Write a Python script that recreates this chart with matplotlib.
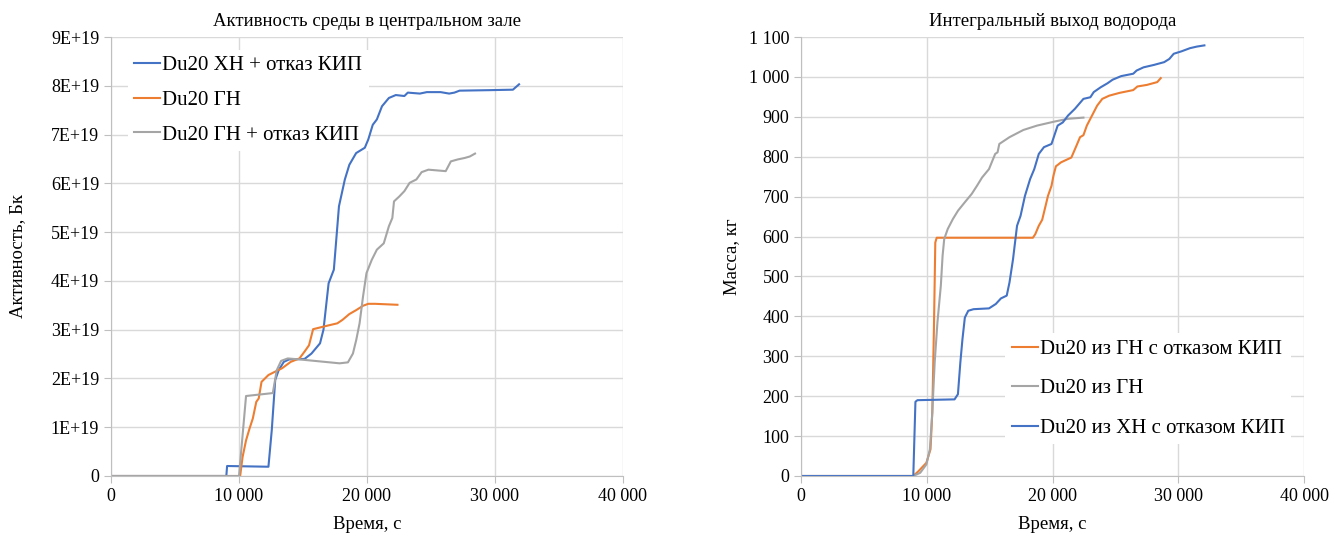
import matplotlib
matplotlib.use('Agg')
import matplotlib.pyplot as plt
from matplotlib.ticker import FuncFormatter, MultipleLocator

plt.rcParams['font.family'] = ['Liberation Serif', 'DejaVu Serif']

# Активность среды в центральном зале, Бк (время, с)
xh_kip_t = [0, 9010, 9070, 12300, 12560, 12830, 13100, 13500, 13910, 15120, 15660,
            16330, 16600, 17000, 17410, 17810, 18270, 18620, 19150, 19830, 20100,
            20450, 20770, 21170, 21710, 22250, 22920, 23190, 24130, 24670, 25750,
            26420, 26830, 27230, 29520, 31400, 31880]
xh_kip_a = [0, 0, 0.205, 0.19, 0.94, 1.97, 2.17, 2.34, 2.39, 2.40, 2.51,
            2.72, 3.0, 3.95, 4.23, 5.53, 6.08, 6.38, 6.62, 6.73, 6.9,
            7.2, 7.31, 7.58, 7.75, 7.81, 7.79, 7.86, 7.84, 7.87, 7.87,
            7.84, 7.86, 7.9, 7.91, 7.92, 8.03]

gn_t = [0, 10090, 10280, 10550, 10820, 11080, 11350, 11540, 11760, 12300, 12830,
        13370, 14040, 14720, 15120, 15470, 15790, 16870, 17680, 18080, 18620,
        19150, 19690, 20100, 20630, 22380]
gn_a = [0, 0, 0.39, 0.73, 0.97, 1.18, 1.52, 1.59, 1.93, 2.07, 2.14,
        2.21, 2.34, 2.41, 2.55, 2.68, 3.01, 3.08, 3.13, 3.2, 3.32,
        3.40, 3.49, 3.53, 3.53, 3.51]

gn_kip_t = [0, 10000, 10550, 12640, 12950, 13290, 13810, 14730, 17860, 18510,
            18900, 19160, 19420, 19690, 19960, 20370, 20770, 21310, 21710, 21980,
            22110, 22520, 22920, 23330, 23860, 24270, 24800, 26150, 26550, 27090,
            27630, 28030, 28440]
gn_kip_a = [0, 0, 1.64, 1.70, 2.17, 2.36, 2.41, 2.39, 2.31, 2.33,
            2.51, 2.79, 3.13, 3.68, 4.16, 4.43, 4.64, 4.77, 5.12, 5.29,
            5.63, 5.73, 5.84, 6.01, 6.08, 6.23, 6.28, 6.25, 6.45, 6.49,
            6.52, 6.55, 6.61]

# Интегральный выход водорода, кг (время, с)
h_gn_kip_t = [0, 8930, 9340, 9970, 10300, 10440, 10570, 10680, 10790, 18440,
              18630, 18910, 19180, 19450, 19640, 19920, 20080, 20270, 20680, 21090,
              21500, 21910, 22190, 22460, 22730, 23140, 23550, 23960, 24510, 25330,
              26420, 26750, 27510, 28330, 28610]
h_gn_kip_m = [0, 0, 12, 33, 67, 159, 368, 585, 597, 597,
              606, 627, 642, 677, 702, 727, 753, 776, 786, 792,
              798, 828, 849, 854, 878, 903, 928, 945, 953, 960,
              967, 976, 980, 987, 997]

h_gn_t = [0, 8930, 9480, 9970, 10250, 10440, 10630, 10850, 11120, 11260, 11390,
          11670, 12080, 12490, 13030, 13580, 13990, 14400, 14950, 15440, 15630,
          15770, 16580, 17680, 18770, 20140, 21230, 22460]
h_gn_m = [0, 0, 8, 29, 67, 159, 284, 385, 477, 552, 594,
          619, 644, 665, 686, 707, 727, 748, 769, 807, 811,
          832, 849, 867, 878, 888, 895, 898]

h_xh_kip_t = [0, 8930, 9100, 9260, 12210, 12480, 12670, 12840, 13030, 13300, 13720,
              14950, 15490, 15900, 16360, 16580, 16860, 17180, 17460, 17810, 18220,
              18550, 18910, 19320, 19920, 20410, 20820, 21230, 21780, 22460, 23010,
              23280, 23830, 24370, 24780, 25460, 26420, 26690, 27240, 28060, 28880,
              29290, 29640, 30250, 30930, 31480, 32080]
h_xh_kip_m = [0, 0, 186, 190, 192, 205, 284, 343, 397, 414, 418,
              420, 431, 445, 452, 485, 543, 627, 652, 702, 744,
              769, 807, 824, 832, 878, 886, 903, 920, 945, 949,
              962, 974, 984, 993, 1002, 1008, 1016, 1024, 1030, 1037,
              1045, 1058, 1064, 1072, 1076, 1079]

BLUE = '#4472C4'
ORANGE = '#ED7D31'
GRAY = '#A5A5A5'
GRID = '#D9D9D9'
AXIS = '#BFBFBF'


def style_axes(ax):
    ax.grid(True, color=GRID, linewidth=1.0)
    ax.set_axisbelow(True)
    for side in ('top', 'right'):
        ax.spines[side].set_visible(False)
    for side in ('left', 'bottom'):
        ax.spines[side].set_color(AXIS)
    ax.tick_params(axis='both', colors=AXIS, labelcolor='black', labelsize=13,
                   length=5, direction='out')
    ax.xaxis.set_major_locator(MultipleLocator(10000))
    ax.xaxis.set_major_formatter(FuncFormatter(
        lambda v, p: f'{int(v):,}'.replace(',', ' ')))
    ax.set_xlim(0, 40000)
    ax.set_xlabel('Время, с', fontsize=13.5, labelpad=8)


def white_legend(ax, **kw):
    leg = ax.legend(fontsize=15, frameon=True, handlelength=1.25,
                    handletextpad=0.1, borderpad=0.3, fancybox=False, **kw)
    leg.get_frame().set_edgecolor('none')
    leg.get_frame().set_alpha(1)
    # под кривыми, но поверх сетки
    leg.set_zorder(1.5)
    return leg


fig = plt.figure(figsize=(13.33, 5.36), dpi=100)

ax1 = fig.add_axes([111 / 1333, 60 / 536, 512 / 1333, 439 / 536])
style_axes(ax1)
ax1.plot(xh_kip_t, [a * 1e19 for a in xh_kip_a], color=BLUE, lw=1.5,
         label='Du20 ХН + отказ КИП')
ax1.plot(gn_t, [a * 1e19 for a in gn_a], color=ORANGE, lw=1.5, label='Du20 ГН')
ax1.plot(gn_kip_t, [a * 1e19 for a in gn_kip_a], color=GRAY, lw=1.5,
         label='Du20 ГН + отказ КИП')
ax1.set_ylim(0, 9e19)
ax1.yaxis.set_major_locator(MultipleLocator(1e19))
ax1.yaxis.set_major_formatter(FuncFormatter(
    lambda v, p: '0' if v == 0 else f'{round(v / 1e19)}E+19'))
ax1.set_ylabel('Активность, Бк', fontsize=13.5, labelpad=18)
ax1.set_title('Активность среды в центральном зале', fontsize=13.5, pad=8)
white_legend(ax1, loc='upper left', bbox_to_anchor=(0.013, 0.995),
             labelspacing=0.72)

ax2 = fig.add_axes([801 / 1333, 60 / 536, 503 / 1333, 439 / 536])
style_axes(ax2)
ax2.plot(h_gn_kip_t, h_gn_kip_m, color=ORANGE, lw=1.5,
         label='Du20 из ГН с отказом КИП')
ax2.plot(h_gn_t, h_gn_m, color=GRAY, lw=1.5, label='Du20 из ГН')
ax2.plot(h_xh_kip_t, h_xh_kip_m, color=BLUE, lw=1.5,
         label='Du20 из ХН с отказом КИП')
ax2.set_ylim(0, 1100)
ax2.yaxis.set_major_locator(MultipleLocator(100))
ax2.yaxis.set_major_formatter(FuncFormatter(
    lambda v, p: f'{int(v):,}'.replace(',', ' ')))
ax2.set_ylabel('Масса, кг', fontsize=13.5, labelpad=6)
ax2.set_title('Интегральный выход водорода', fontsize=13.5, pad=8)
white_legend(ax2, loc='lower right', bbox_to_anchor=(0.995, 0.049),
             labelspacing=0.95)

fig.savefig('out.png', dpi=100)
